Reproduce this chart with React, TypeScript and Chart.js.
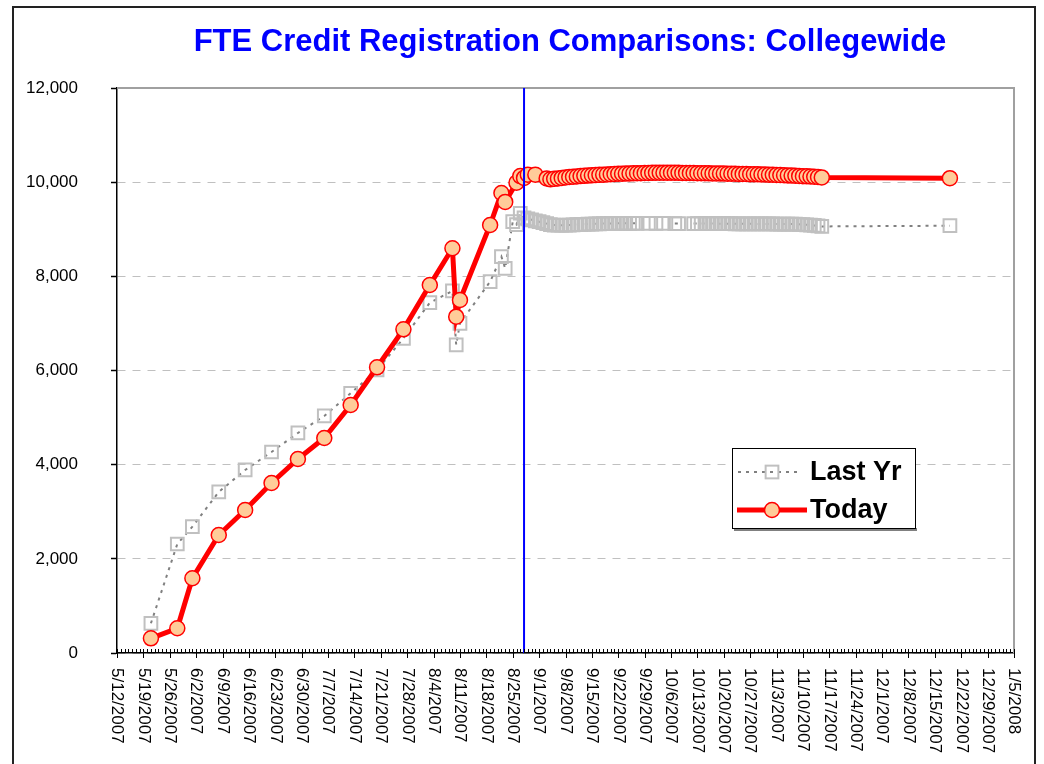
import React, { useEffect, useRef } from "react";
import { Chart, registerables } from "chart.js";

Chart.register(...registerables);

// ---------- text ----------
const chartTitle = "FTE Credit Registration Comparisons: Collegewide";
const seriesLastYr = "Last Yr";
const seriesToday = "Today";

// ---------- axes ----------
const axisStartDate = "5/12/2007";
const axisEndDate = "1/5/2008";
const majorStepDays = 7;
const yMin = 0;
const yMax = 12000;
const yStep = 2000;
const markerDate = "8/28/2007";

// ---------- data: weekly part, shared dates ----------
const earlyDates = [
  "5/21/2007", "5/28/2007", "6/1/2007", "6/8/2007", "6/15/2007", "6/22/2007",
  "6/29/2007", "7/6/2007", "7/13/2007", "7/20/2007", "7/27/2007", "8/3/2007",
  "8/9/2007", "8/10/2007", "8/11/2007", "8/19/2007", "8/22/2007", "8/23/2007",
];
const lastYrEarly = [
  631, 2315, 2683, 3420, 3887, 4269, 4673, 5034, 5516, 6011, 6684, 7440,
  7689, 6542, 7003, 7887, 8418, 8171,
];
const todayEarly = [
  312, 525, 1587, 2506, 3037, 3611, 4120, 4567, 5267, 6068, 6875, 7816,
  8596, 7143, 7498, 9091, 9770, 9580,
];

// ---------- Today: late August points ----------
const todayMidDates = ["8/26/2007", "8/27/2007", "8/28/2007", "8/29/2007", "8/31/2007", "9/3/2007"];
const todayMidValues = [9990, 10130, 10090, 10160, 10160, 10080];

// ---------- Today: daily values from this date ----------
const todayDailyStart = "9/4/2007";
const todayDailyValues = [
  10060, 10070, 10080, 10090, 10100, 10110, 10115, 10120, 10130, 10135,
  10140, 10145, 10150, 10155, 10160, 10165, 10170, 10175, 10178, 10180,
  10183, 10186, 10188, 10190, 10192, 10194, 10196, 10198, 10200, 10200,
  10202, 10202, 10200, 10200, 10198, 10197, 10196, 10195, 10193, 10192,
  10190, 10189, 10188, 10186, 10185, 10184, 10182, 10181, 10180, 10178,
  10176, 10175, 10173, 10170, 10168, 10166, 10164, 10162, 10160, 10157,
  10154, 10150, 10147, 10144, 10140, 10136, 10132, 10128, 10124, 10120,
  10115, 10110, 10100,
];

// ---------- Last Yr: daily values from this date (null = no data) ----------
const lastYrDailyStart = "8/25/2007";
const lastYrDailyValues: (number | null)[] = [
  9160, 9100, 9340, 9240, 9220, 9200, 9180, 9160, 9140, 9120,
  9100, 9090, 9085, 9085, 9090, 9090, 9095, 9100, 9100, 9105,
  9110, 9110, 9115, 9115, 9120, 9120, 9120, 9125, 9125, 9125,
  9125, 9125, 9125, 9125, null, null, 9125, null, 9125, null,
  9125, null, null, 9120, 9120, null, null, null, 9120, 9120,
  9120, 9120, 9120, 9120, 9120, 9118, 9118, 9118, 9118, 9116,
  9116, 9116, 9115, 9115, 9115, 9114, 9114, 9113, 9112, 9112,
  9111, 9110, 9110, 9110, 9110, 9108, 9105, 9100, 9095, 9090,
  9080, 9070, 9060,
];

// ---------- final point ----------
const finalDate = "12/19/2007";
const todayFinal = 10085;
const lastYrFinal = 9075;

// ---------- helpers ----------
const DAY = 86400000;
const toUTC = (s: string) => {
  const [m, d, y] = s.split("/").map(Number);
  return Date.UTC(y, m - 1, d);
};
const startUTC = toUTC(axisStartDate);
const dayOf = (s: string) => Math.round((toUTC(s) - startUTC) / DAY);
const labelOf = (day: number) => {
  const dt = new Date(startUTC + day * DAY);
  return `${dt.getUTCMonth() + 1}/${dt.getUTCDate()}/${dt.getUTCFullYear()}`;
};
const pairs = (dates: string[], values: (number | null)[]) =>
  dates.map((d, i) => ({ x: dayOf(d), y: values[i] }));
const daily = (start: string, values: (number | null)[]) =>
  values.map((v, i) => ({ x: dayOf(start) + i, y: v }));

const FONT = '"Liberation Sans", Arial, sans-serif';

export default function App() {
  const ref = useRef<HTMLCanvasElement | null>(null);

  useEffect(() => {
    if (!ref.current) return;

    const todayData = [
      ...pairs(earlyDates, todayEarly),
      ...pairs(todayMidDates, todayMidValues),
      ...daily(todayDailyStart, todayDailyValues),
      { x: dayOf(finalDate), y: todayFinal },
    ];
    const lastYrData = [
      ...pairs(earlyDates, lastYrEarly),
      ...daily(lastYrDailyStart, lastYrDailyValues),
      { x: dayOf(finalDate), y: lastYrFinal },
    ];
    const markerDay = dayOf(markerDate);

    const decorations = {
      id: "decorations",
      beforeDatasetsDraw(chart: any) {
        const { ctx, chartArea } = chart;
        ctx.save();
        ctx.strokeStyle = "#A0A0A0";
        ctx.lineWidth = 2;
        ctx.beginPath();
        ctx.moveTo(chartArea.left, chartArea.top);
        ctx.lineTo(chartArea.right, chartArea.top);
        ctx.lineTo(chartArea.right, chartArea.bottom);
        ctx.stroke();
        ctx.restore();
      },
      afterDraw(chart: any) {
        const { ctx, chartArea } = chart;
        const xs = chart.scales.x;
        const bottom = chartArea.bottom;
        ctx.save();
        // x ticks (minor inside, major crossing)
        ctx.strokeStyle = "#000";
        ctx.lineWidth = 1;
        const total = dayOf(axisEndDate);
        for (let d = 0; d <= total; d++) {
          const px = Math.round(xs.getPixelForValue(d)) + 0.5;
          const major = d % majorStepDays === 0;
          ctx.beginPath();
          ctx.moveTo(px, bottom - 4);
          ctx.lineTo(px, major ? bottom + 5 : bottom);
          ctx.stroke();
        }
        // x labels rotated clockwise
        ctx.fillStyle = "#000";
        ctx.font = `17px ${FONT}`;
        ctx.textAlign = "left";
        ctx.textBaseline = "middle";
        xs.ticks.forEach((t: any) => {
          const px = xs.getPixelForValue(t.value);
          ctx.save();
          ctx.translate(px, bottom + 15);
          ctx.rotate(Math.PI / 2);
          ctx.fillText(labelOf(t.value), 0, 0);
          ctx.restore();
        });

        // title
        ctx.fillStyle = "#0000FF";
        ctx.font = `bold 31px ${FONT}`;
        ctx.textAlign = "center";
        ctx.textBaseline = "middle";
        ctx.fillText(chartTitle, 570, 42);

        // legend
        const lx = 732, ly = 448, lw = 183, lh = 80;
        ctx.fillStyle = "#808080";
        ctx.fillRect(lx + 2, ly + lh, lw, 3);
        ctx.fillStyle = "#FFFFFF";
        ctx.fillRect(lx, ly, lw, lh);
        ctx.strokeStyle = "#000";
        ctx.lineWidth = 1;
        ctx.strokeRect(lx + 0.5, ly + 0.5, lw, lh);

        const dsLast = chart.data.datasets[2];
        const dsToday = chart.data.datasets[1];
        // Last Yr sample
        let yy = 472;
        ctx.strokeStyle = dsLast.borderColor;
        ctx.lineWidth = dsLast.borderWidth;
        ctx.setLineDash(dsLast.borderDash);
        ctx.beginPath();
        ctx.moveTo(738, yy);
        ctx.lineTo(802, yy);
        ctx.stroke();
        ctx.setLineDash([]);
        ctx.strokeStyle = dsLast.pointBorderColor;
        ctx.lineWidth = dsLast.pointBorderWidth;
        const side = dsLast.pointRadius * Math.SQRT2;
        ctx.strokeRect(772 - side / 2, yy - side / 2, side, side);
        ctx.fillStyle = "#000";
        ctx.font = `bold 27px ${FONT}`;
        ctx.textAlign = "left";
        ctx.textBaseline = "middle";
        ctx.fillText(dsLast.label, 810, yy + 1);
        // Today sample
        yy = 510;
        ctx.strokeStyle = dsToday.borderColor;
        ctx.lineWidth = dsToday.borderWidth;
        ctx.beginPath();
        ctx.moveTo(737, yy);
        ctx.lineTo(807, yy);
        ctx.stroke();
        ctx.beginPath();
        ctx.arc(772, yy, dsToday.pointRadius, 0, Math.PI * 2);
        ctx.fillStyle = dsToday.pointBackgroundColor;
        ctx.fill();
        ctx.strokeStyle = dsToday.pointBorderColor;
        ctx.lineWidth = dsToday.pointBorderWidth;
        ctx.stroke();
        ctx.fillStyle = "#000";
        ctx.fillText(dsToday.label, 810, yy + 1);

        // outer frame
        ctx.strokeStyle = "#222";
        ctx.lineWidth = 2;
        ctx.strokeRect(13, 7, 1022, 800);
        ctx.restore();
      },
    };

    const chart = new Chart(ref.current, {
      type: "line",
      data: {
        datasets: [
          {
            label: "",
            data: [
              { x: markerDay, y: yMin },
              { x: markerDay, y: yMax },
            ],
            borderColor: "#0000FF",
            borderWidth: 2,
            pointRadius: 0,
          },
          {
            label: seriesToday,
            data: todayData as any,
            borderColor: "#FF0000",
            borderWidth: 5,
            pointRadius: 7.5,
            pointBackgroundColor: "#FFCC99",
            pointBorderColor: "#FF0000",
            pointBorderWidth: 1.5,
            tension: 0,
          },
          {
            label: seriesLastYr,
            data: lastYrData as any,
            borderColor: "#808080",
            borderWidth: 2,
            borderDash: [3, 5],
            pointStyle: "rect",
            pointRadius: 9,
            pointBackgroundColor: "rgba(0,0,0,0)",
            pointBorderColor: "#C0C0C0",
            pointBorderWidth: 2,
            spanGaps: false,
            tension: 0,
          },
        ],
      },
      options: {
        responsive: false,
        animation: false,
        devicePixelRatio: 1,
        layout: { padding: { top: 88, right: 30, left: 0, bottom: 0 } },
        plugins: {
          legend: { display: false },
          title: { display: false },
          tooltip: { enabled: false },
        },
        scales: {
          x: {
            type: "linear",
            min: 0,
            max: dayOf(axisEndDate),
            afterFit: (s: any) => {
              s.height = 111;
            },
            ticks: { display: false, stepSize: majorStepDays },
            grid: { display: true, drawOnChartArea: false, drawTicks: false },
            border: { display: true, color: "#000", width: 1.5 },
          },
          y: {
            min: yMin,
            max: yMax,
            afterFit: (s: any) => {
              s.width = 117;
            },
            ticks: {
              stepSize: yStep,
              padding: 33,
              color: "#000",
              font: { family: FONT, size: 17 },
              callback: (v: any) => Number(v).toLocaleString("en-US"),
            },
            grid: {
              color: "#C0C0C0",
              lineWidth: 1,
              tickLength: 6,
              tickColor: "#000",
              tickWidth: 1.5,
              tickBorderDash: [],
            },
            border: { display: true, color: "#000", width: 1.5, dash: [8, 7] },
          },
        },
      } as any,
      plugins: [decorations],
    });

    return () => chart.destroy();
  }, []);

  return (
    <div style={{ position: "absolute", left: 0, top: 0, width: 1044, height: 764 }}>
      <canvas ref={ref} width={1044} height={764} style={{ display: "block" }} />
    </div>
  );
}
